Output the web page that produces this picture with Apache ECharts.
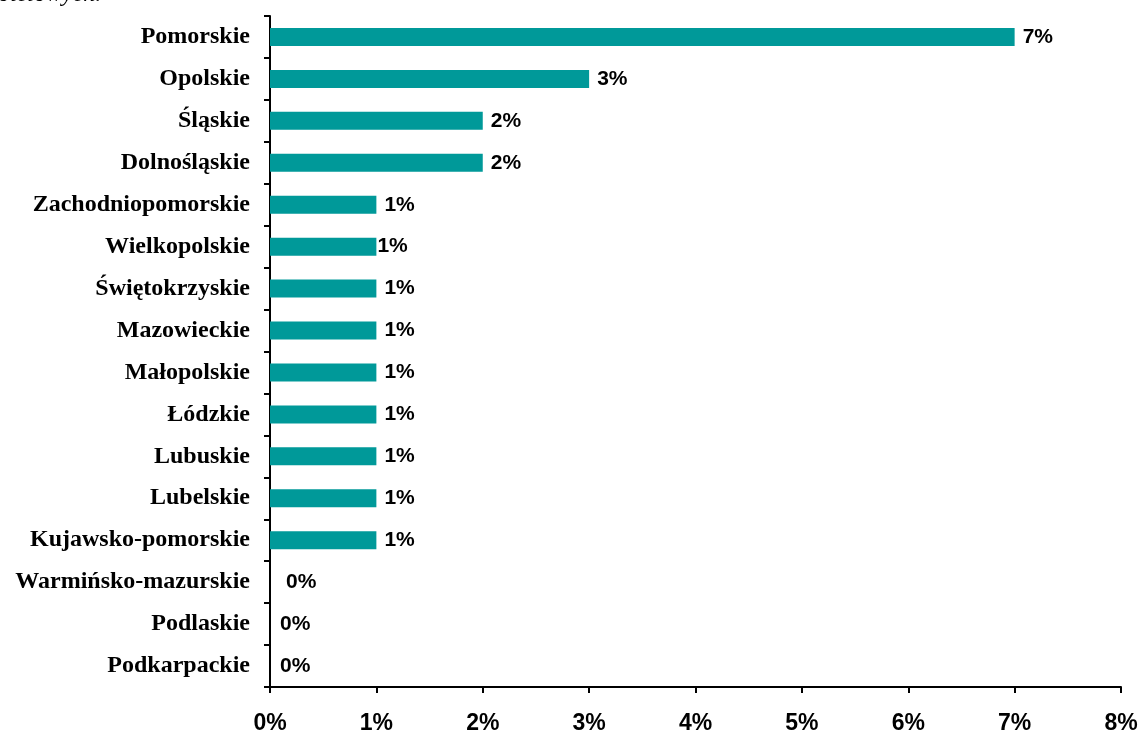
<!DOCTYPE html>
<html>
<head>
<meta charset="utf-8">
<script src="https://cdn.jsdelivr.net/npm/echarts@6/dist/echarts.min.js"></script>
<style>
  html, body { margin: 0; padding: 0; background: #fff; }
  #chart { width: 1142px; height: 735px; }
</style>
</head>
<body>
<div id="chart"></div>
<script>
// Regions, listed top to bottom
const regions = [
  'Pomorskie', 'Opolskie', 'Śląskie', 'Dolnośląskie', 'Zachodniopomorskie',
  'Wielkopolskie', 'Świętokrzyskie', 'Mazowieckie', 'Małopolskie', 'Łódzkie',
  'Lubuskie', 'Lubelskie', 'Kujawsko-pomorskie', 'Warmińsko-mazurskie',
  'Podlaskie', 'Podkarpackie'
];
// Share in percent
const shares = [7, 3, 2, 2, 1, 1, 1, 1, 1, 1, 1, 1, 1, 0, 0, 0];
// Value axis ticks
const axisMin = 0, axisMax = 8, axisStep = 1;

// Per-row label gap next to the bar end
const labelGap = regions.map(function (r, i) {
  if (r === 'Wielkopolskie') return 1;
  if (r === 'Warmińsko-mazurskie') return 16;
  if (shares[i] === 0) return 10;
  return 8;
});

const chart = echarts.init(document.getElementById('chart'), null, { renderer: 'canvas' });
chart.setOption({
  animation: false,
  backgroundColor: '#ffffff',
  grid: { left: 270, right: 21, top: 16, bottom: 48, containLabel: false },
  graphic: [{
    type: 'text', x: -14, y: 7,
    style: {
      text: 'hotelowych.', font: 'italic 24px "Liberation Serif"', fill: '#000',
      verticalAlign: 'bottom'
    }
  }],
  xAxis: {
    type: 'value', min: axisMin, max: axisMax, interval: axisStep,
    axisLine: { show: true, lineStyle: { color: '#000', width: 2 } },
    axisTick: { show: true, length: 6, lineStyle: { color: '#000', width: 2 } },
    splitLine: { show: false },
    axisLabel: {
      margin: 25, color: '#000', fontFamily: 'Liberation Sans', fontWeight: 'bold', fontSize: 23,
      formatter: function (v) { return v + '%'; }
    }
  },
  yAxis: {
    type: 'category', data: regions, inverse: true,
    axisLine: { show: true, lineStyle: { color: '#000', width: 2 } },
    axisTick: { show: true, length: 6, lineStyle: { color: '#000', width: 2 } },
    axisLabel: {
      margin: 20, color: '#000', fontFamily: 'Liberation Serif', fontWeight: 'bold', fontSize: 24,
      padding: [3, 0, 0, 0]
    }
  },
  series: [{
    type: 'bar',
    barWidth: 18,
    itemStyle: { color: '#009999' },
    data: shares.map(function (v, i) {
      return { value: v, label: { distance: labelGap[i] } };
    }),
    label: {
      show: true, position: 'right', color: '#000',
      fontFamily: 'Liberation Sans', fontWeight: 'bold', fontSize: 21,
      formatter: function (p) { return p.value + '%'; }
    }
  }]
});
</script>
</body>
</html>
